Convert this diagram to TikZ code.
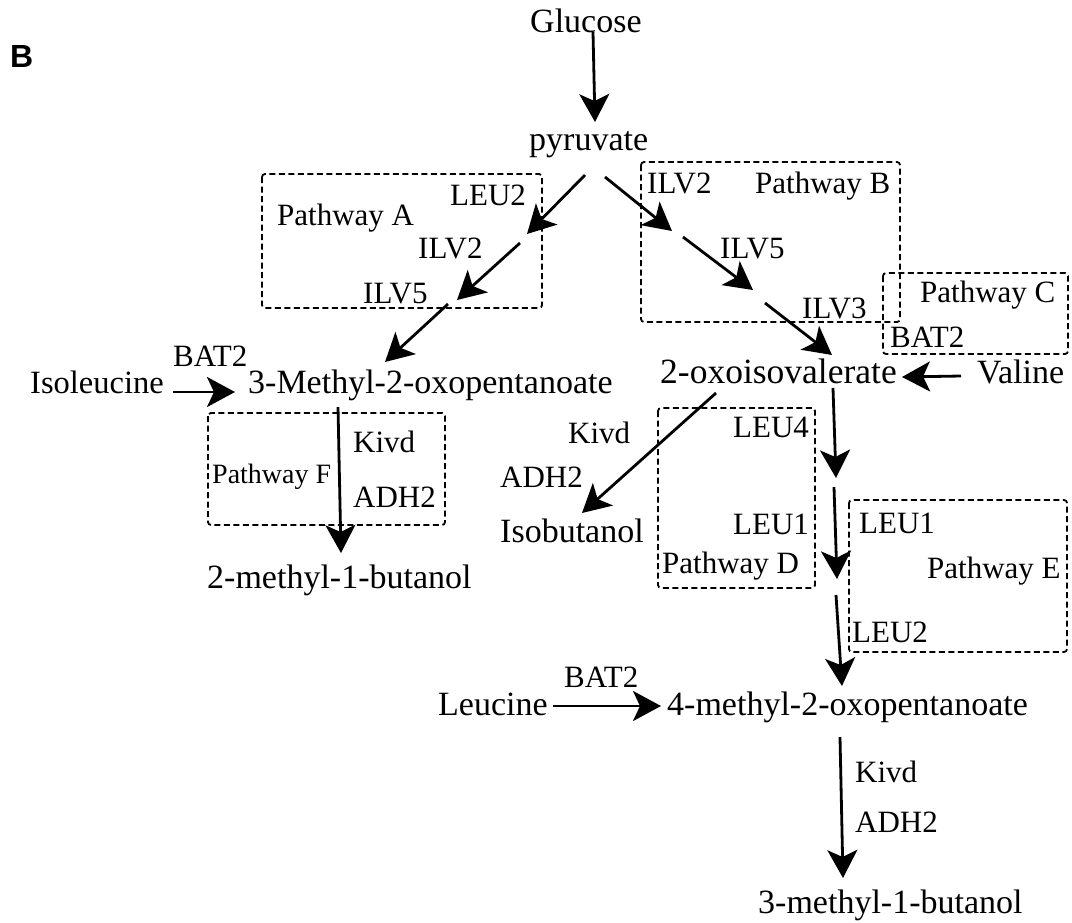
\documentclass[tikz,border=0pt]{standalone}
\usepackage{fontspec}
\setmainfont{Liberation Serif}
\newfontfamily\panelfont{Liberation Sans}
\usetikzlibrary{arrows.meta}
\begin{document}
\begin{tikzpicture}[x=1pt,y=-1pt,
  met/.style={inner sep=0pt, anchor=base west, font=\fontsize{34}{36}\selectfont},
  enz/.style={inner sep=0pt, anchor=base west, font=\fontsize{31}{34}\selectfont},
  pbox/.style={draw, dash pattern=on 6pt off 3.5pt, line width=1.8pt, rounded corners=3pt},
  arr/.style={line width=2.8pt, -{Stealth[length=28pt,width=30pt,inset=7pt]}},
]
\useasboundingbox (0,0) rectangle (1072,922);

% panel letter
\node[inner sep=0pt, anchor=base west, font=\fontsize{32}{34}\selectfont\panelfont\bfseries] (panel) at (10,67) {B};

% boxes
\draw[pbox] (262,174) rectangle (542,308);
\draw[pbox] (641,162) rectangle (900,322);
\draw[pbox] (883,273) rectangle (1068,354);
\draw[pbox] (208,413) rectangle (445,525);
\draw[pbox] (658,408) rectangle (815,588);
\draw[pbox] (849,500) rectangle (1067,652);

% metabolites
\node[met] (glc) at (530,32) {Glucose};
\node[met] (pyr) at (529,150) {pyruvate};
\node[met, font=\fontsize{32.5}{36}\selectfont] (ile) at (30,393) {Isoleucine};
\node[met] (mop) at (248,393) {3-Methyl-2-oxopentanoate};
\node[met, font=\fontsize{35.5}{38}\selectfont] (kiv) at (660,383) {2-oxoisovalerate};
\node[met] (val) at (977,383) {Valine};
\node[met] (mb2) at (207,588) {2-methyl-1-butanol};
\node[met] (ibu) at (500,542) {Isobutanol};
\node[met] (leu) at (438,715) {Leucine};
\node[met] (kic) at (667,715) {4-methyl-2-oxopentanoate};
\node[met] (mb3) at (758,913) {3-methyl-1-butanol};

% pathway A
\node[enz] (pa) at (277,225) {Pathway A};
\node[enz] (aleu2) at (450,205) {LEU2};
\node[enz] (ailv2) at (418,258) {ILV2};
\node[enz] (ailv5) at (363,303) {ILV5};
% pathway B
\node[enz] (bilv2) at (647,193) {ILV2};
\node[enz] (pb) at (755,193) {Pathway B};
\node[enz] (bilv5) at (720,258) {ILV5};
\node[enz] (bilv3) at (802,318) {ILV3};
% pathway C
\node[enz] (pc) at (920,302) {Pathway C};
\node[enz] (cbat2) at (890,347) {BAT2};
% left BAT2
\node[enz] (ibat2) at (173,366) {BAT2};
% pathway F
\node[enz] (fkivd) at (353,452) {Kivd};
\node[inner sep=0pt, anchor=base west, font=\fontsize{28}{30}\selectfont] (pf) at (212,483) {Pathway F};
\node[enz] (fadh2) at (353,507) {ADH2};
% isobutanol branch
\node[enz] (ikivd) at (568,443) {Kivd};
\node[enz] (iadh2) at (500,487) {ADH2};
% pathway D
\node[enz] (dleu4) at (733,437) {LEU4};
\node[enz] (dleu1) at (733,534) {LEU1};
\node[enz] (pd) at (662,573) {Pathway D};
% pathway E
\node[enz] (eleu1) at (859,533) {LEU1};
\node[enz] (pe) at (927,578) {Pathway E};
\node[enz] (eleu2) at (852,642) {LEU2};
% leucine
\node[enz] (lbat2) at (564,687) {BAT2};
\node[enz] (lkivd) at (855,782) {Kivd};
\node[enz] (ladh2) at (855,832) {ADH2};

% connector end points
\coordinate (g0) at (593,32);  \coordinate (g1) at (595,122);
\coordinate (a0) at (585,175); \coordinate (a1) at (527,234);
\coordinate (a2) at (520,243); \coordinate (a3) at (457,300);
\coordinate (a4) at (448,304); \coordinate (a5) at (385,362);
\coordinate (b0) at (605,177); \coordinate (b1) at (672,231);
\coordinate (b2) at (683,237); \coordinate (b3) at (753,290);
\coordinate (b4) at (765,303); \coordinate (b5) at (832,355);
\coordinate (v0) at (961,376); \coordinate (v1) at (902,377);
\coordinate (i0) at (173,392); \coordinate (i1) at (235,392);
\coordinate (f0) at (338,407); \coordinate (f1) at (341,553);
\coordinate (k0) at (716,393); \coordinate (k1) at (582,513);
\coordinate (d0) at (833,388); \coordinate (d1) at (836,478);
\coordinate (d2) at (834,487); \coordinate (d3) at (837,579);
\coordinate (d4) at (836,595); \coordinate (d5) at (842,686);
\coordinate (l0) at (553,706); \coordinate (l1) at (661,706);
\coordinate (m0) at (840,737); \coordinate (m1) at (843,878);

\draw[arr] (g0) -- (g1);
\draw[arr] (a0) -- (a1);
\draw[arr] (a2) -- (a3);
\draw[arr] (a4) -- (a5);
\draw[arr] (b0) -- (b1);
\draw[arr] (b2) -- (b3);
\draw[arr] (b4) -- (b5);
\draw[arr] (v0) -- (v1);
\draw[arr] (i0) -- (i1);
\draw[arr] (f0) -- (f1);
\draw[arr] (k0) -- (k1);
\draw[arr] (d0) -- (d1);
\draw[arr] (d2) -- (d3);
\draw[arr] (d4) -- (d5);
\draw[arr] (l0) -- (l1);
\draw[arr] (m0) -- (m1);
\end{tikzpicture}
\end{document}
